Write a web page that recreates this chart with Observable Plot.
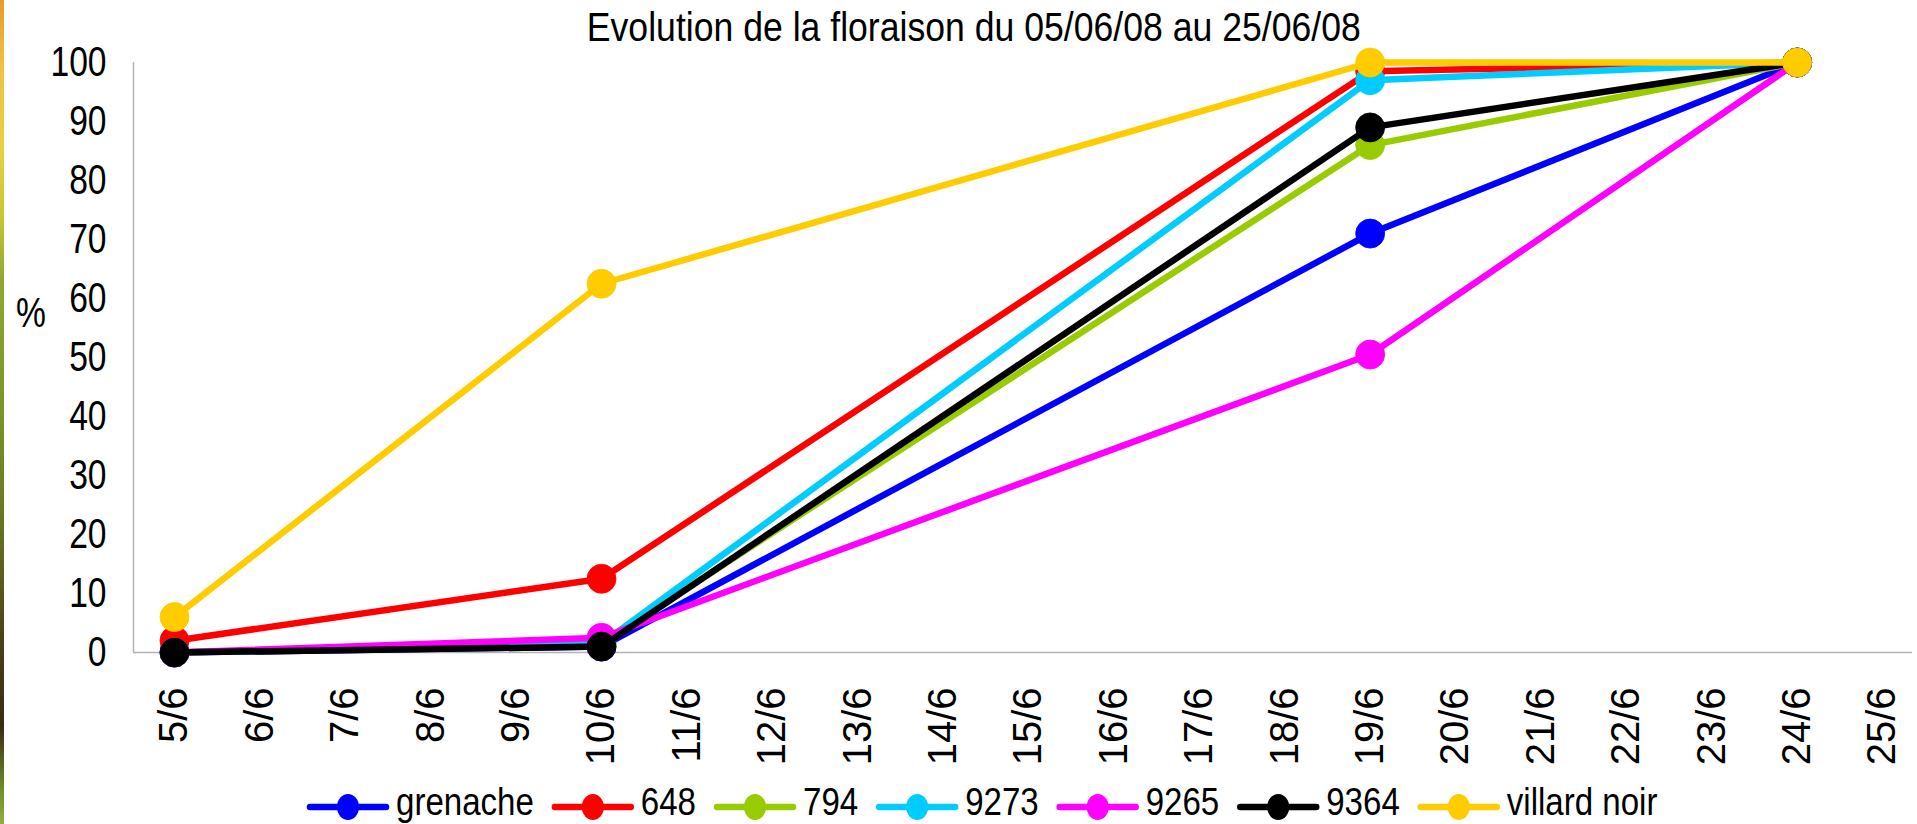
<!DOCTYPE html>
<html>
<head>
<meta charset="utf-8">
<script src="https://cdn.jsdelivr.net/npm/d3@7"></script>
<script src="https://cdn.jsdelivr.net/npm/@observablehq/plot@0.6"></script>
<style>
  html, body { margin: 0; padding: 0; background: #fff; }
  body { width: 1917px; height: 824px; position: relative; overflow: hidden; }
  #strip { position: absolute; left: 0; top: 0; width: 4px; height: 824px;
    background: linear-gradient(to bottom, #e89a2a 0%, #f0c040 8%, #e8d040 18%, #c8c830 26%, #90a830 34%, #7a9428 50%, #6a7a20 62%, #4a4018 78%, #3a2a14 88%, #70902a 96%, #90b040 100%); }
  #title { position: absolute; left: 0; width: 1948px; top: 7px; text-align: center;
    font-family: "Liberation Sans", Arial, sans-serif; font-size: 40px; color: #000; line-height: 40px; }
  #title span { display: inline-block; transform: scaleX(0.89); transform-origin: center; white-space: nowrap; }
  #ylab { position: absolute; left: 16px; top: 292px; font-family: "Liberation Sans", Arial, sans-serif; font-size: 42px; line-height: 42px; transform: scaleX(0.8); transform-origin: left; }
  #legend { position: absolute; left: 0; top: 766px; overflow: visible; }
  #chart { position: absolute; left: 0; top: 0; }
</style>
</head>
<body>
<div id="chart"></div>
<div id="strip"></div>
<div id="title"><span>Evolution de la floraison du 05/06/08 au 25/06/08</span></div>
<div id="ylab">%</div>
<svg id="legend" width="1917" height="58"></svg>
<script>
// Observation days (June 2008, day of month)
const days = [5, 10, 19, 24];
// Series names and colours
const seriesNames = ["grenache", "648", "794", "9273", "9265", "9364", "villard noir"];
const seriesColors = ["#0000FF", "#FF0000", "#99CC00", "#00CCFF", "#FF00FF", "#000000", "#FFCC00"];
// Percent of flowering per series at each observation day
const grenache = [0, 1, 71, 100];
const s648 = [2, 12.5, 98.5, 100];
const s794 = [0, 1.5, 86, 100];
const s9273 = [0, 1.5, 97, 100];
const s9265 = [0, 2.5, 50.5, 100];
const s9364 = [0, 1, 89, 100];
const villardNoir = [6, 62.5, 100, 100];
const seriesValues = [grenache, s648, s794, s9273, s9265, s9364, villardNoir];
// Axis ticks
const xTicks = d3.range(5, 26);
const xTickLabels = xTicks.map(d => d + "/6");
const yTicks = [0, 10, 20, 30, 40, 50, 60, 70, 80, 90, 100];
const xDomain = [4.52, 25.35];
const yDomain = [0, 100];

const font = '"Liberation Sans", Arial, sans-serif';

const marks = [
  Plot.ruleY([yDomain[0]], {stroke: "#b3b3b3", strokeWidth: 1.5}),
  Plot.ruleX([xDomain[0]], {y1: yDomain[0], y2: yDomain[1], stroke: "#b3b3b3", strokeWidth: 1.5}),
  Plot.axisY({ticks: yTicks, tickSize: 0, tickPadding: 27, fontSize: 42, fontFamily: font, label: null, fill: "#000"}),
  Plot.axisX({ticks: xTicks, tickFormat: d => xTickLabels[xTicks.indexOf(d)], tickRotate: -90, tickSize: 0, tickPadding: 35, fontSize: 40, fontFamily: font, label: null, fill: "#000"})
];
seriesNames.forEach((name, si) => {
  const data = days.map((d, i) => ({day: d, value: seriesValues[si][i]}));
  marks.push(Plot.line(data, {x: "day", y: "value", stroke: seriesColors[si], strokeWidth: 6.5, strokeLinejoin: "round", strokeLinecap: "round"}));
  marks.push(Plot.dot(data, {x: "day", y: "value", r: 14.5, fill: seriesColors[si], stroke: seriesColors[si], strokeWidth: 0.8}));
});

const chart = Plot.plot({
  width: 1917,
  height: 766,
  marginTop: 62,
  marginBottom: 114,
  marginLeft: 133,
  marginRight: 5,
  x: {type: "linear", domain: xDomain},
  y: {domain: yDomain},
  style: {background: "transparent", overflow: "visible"},
  marks
});
document.getElementById("chart").appendChild(chart);

// condense the y tick labels horizontally (narrow face of the original)
chart.querySelectorAll('g[aria-label="y-axis tick label"] text').forEach(t => {
  const tr = t.getAttribute("transform") || "";
  t.setAttribute("transform", tr + " scale(0.8,1)");
});

// Legend
const svgNS = "http://www.w3.org/2000/svg";
const legend = document.getElementById("legend");
let cx = 307;
const lineY = 41, baseY = 49, textScale = 0.87;
seriesNames.forEach((name, si) => {
  const line = document.createElementNS(svgNS, "line");
  line.setAttribute("x1", cx + 3); line.setAttribute("x2", cx + 79);
  line.setAttribute("y1", lineY); line.setAttribute("y2", lineY);
  line.setAttribute("stroke", seriesColors[si]); line.setAttribute("stroke-width", 6.5);
  line.setAttribute("stroke-linecap", "round");
  legend.appendChild(line);
  const el = document.createElementNS(svgNS, "ellipse");
  el.setAttribute("cx", cx + 41); el.setAttribute("cy", lineY);
  el.setAttribute("rx", 11); el.setAttribute("ry", 13);
  el.setAttribute("fill", seriesColors[si]);
  legend.appendChild(el);
  const tx = document.createElementNS(svgNS, "text");
  tx.textContent = name;
  tx.setAttribute("font-family", font);
  tx.setAttribute("font-size", 38);
  tx.setAttribute("fill", "#000");
  tx.setAttribute("transform", `translate(${cx + 89},${baseY}) scale(${textScale},1)`);
  legend.appendChild(tx);
  const w = tx.getComputedTextLength() * textScale;
  cx = cx + 89 + w + 18;
});
</script>
</body>
</html>
